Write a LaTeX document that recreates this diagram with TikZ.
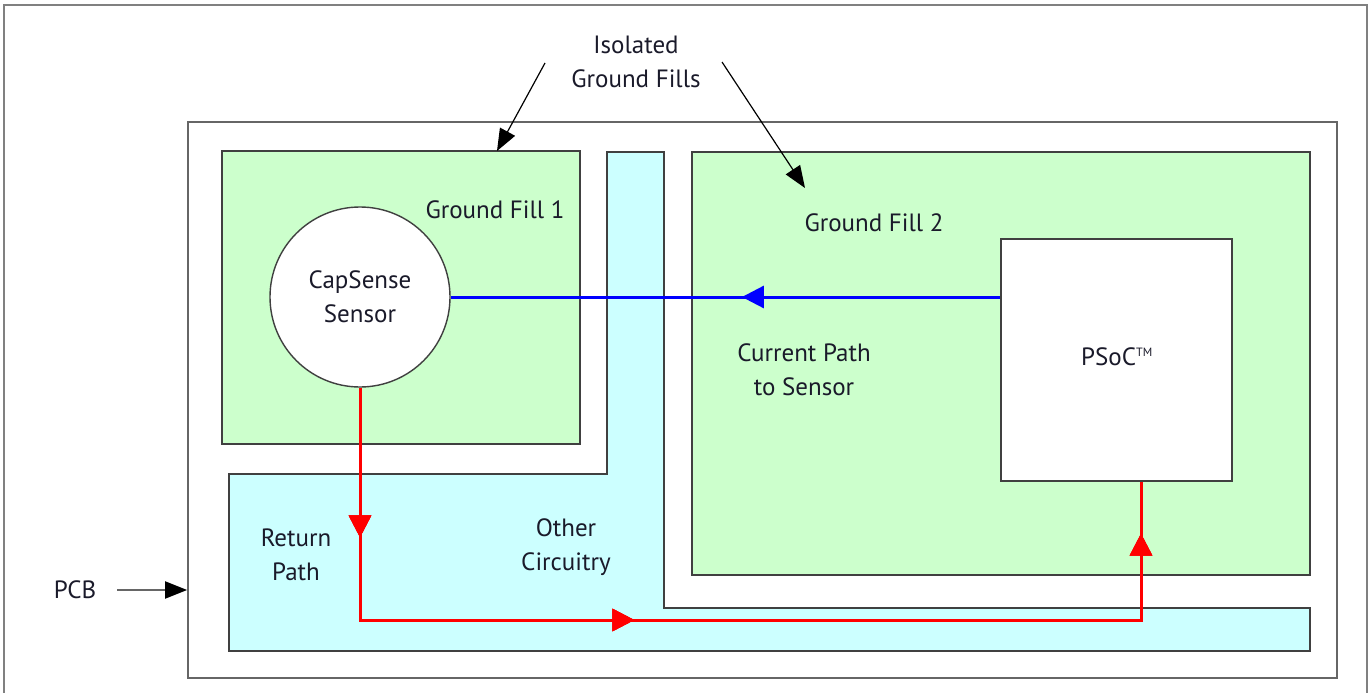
\documentclass[tikz,border=0pt]{standalone}
\usepackage{fontspec}
\setmainfont{PT Sans}
\usetikzlibrary{arrows.meta,decorations.markings}
\definecolor{gfill}{HTML}{CCFFCC}
\definecolor{cfill}{HTML}{CCFFFF}
\definecolor{edge}{HTML}{404040}
\definecolor{frame}{HTML}{808080}
\definecolor{txt}{HTML}{1A1A2A}
\tikzset{
  lbl/.style={font=\fontsize{25}{34}\selectfont, text=txt, align=center, inner sep=0pt},
  fillbox/.style={draw=edge, line width=1.6pt, inner sep=0pt},
  pointer/.style={line width=1.2pt, -{Triangle[length=22pt,width=17pt,color=black,fill=black]}},
  flow/.style={line width=3pt},
  midtip/.style={postaction={decorate}, decoration={markings, mark=at position #1 with {\arrow{Triangle[length=22pt,width=22pt]}}}}
}
\begin{document}
\begin{tikzpicture}[x=1pt,y=-1pt]
\useasboundingbox (0,0) rectangle (1371,693);
% outer frame
\draw[frame, line width=1.5pt] (4,693) -- (4,5) -- (1367,5) -- (1367,693);
% PCB
\node[draw=edge!80, line width=1.8pt, minimum width=1149pt, minimum height=556pt, inner sep=0pt] (pcb) at (762.5,400) {};
% other circuitry (L-shape)
\draw[fill=cfill, draw=edge, line width=1.6pt] (607,152) -- (664,152) -- (664,608) -- (1310,608) -- (1310,651) -- (229,651) -- (229,474) -- (607,474) -- cycle;
% ground fills
\node[fillbox, fill=gfill, minimum width=358pt, minimum height=293pt] (gf1) at (401,297.5) {};
\node[fillbox, fill=gfill, minimum width=618pt, minimum height=423pt] (gf2) at (1001,363.5) {};
% PSoC
\node[fillbox, fill=white, minimum width=231pt, minimum height=242pt] (psoc) at (1116.5,360) {};
\node[lbl] (psoclbl) at (1117,357) {PSoC\textsuperscript{\fontsize{12}{12}\selectfont TM}};
% sensor
\node[draw=edge, line width=1.4pt, fill=white, circle, minimum size=180pt, inner sep=0pt] (sensor) at (360,297) {};
\node[lbl] (sensorlbl) at (360,297) {CapSense\\Sensor};
% labels
\node[lbl] (gf1lbl) at (495,210) {Ground Fill 1};
\node[lbl] (gf2lbl) at (874,223) {Ground Fill 2};
\node[lbl] (curlbl) at (804,370) {Current Path\\to Sensor};
\node[lbl] (retlbl) at (296,555) {Return\\Path};
\node[lbl] (othlbl) at (566,547) {Other\\Circuitry};
\node[lbl] (iso) at (636,62) {Isolated\\Ground Fills};
\node[lbl] (pcblbl) at (75,590) {PCB};
% pointers
\coordinate (isoA) at (545,63);
\coordinate (isoB) at (722,62);
\coordinate (gf1top) at (497,151);
\coordinate (gf2in) at (805,188);
\draw[pointer] (isoA) -- (gf1top);
\draw[pointer] (isoB) -- (gf2in);
\coordinate (pcbA) at (117,590);
\draw[pointer, draw=edge!80, line width=2pt] (pcbA) -- (pcb.west |- pcbA);
% current path (blue)
\draw[flow, blue, midtip=0.47] (psoc.west |- sensor.east) -- (sensor.east);
% return path (red)
\coordinate (r1) at (360,620);
\coordinate (r2) at (1141,620);
\draw[flow, red, midtip=0.13, midtip=0.44, midtip=0.955] (sensor.south) -- (r1) -- (r2) -- (r2 |- psoc.south);
\end{tikzpicture}
\end{document}
